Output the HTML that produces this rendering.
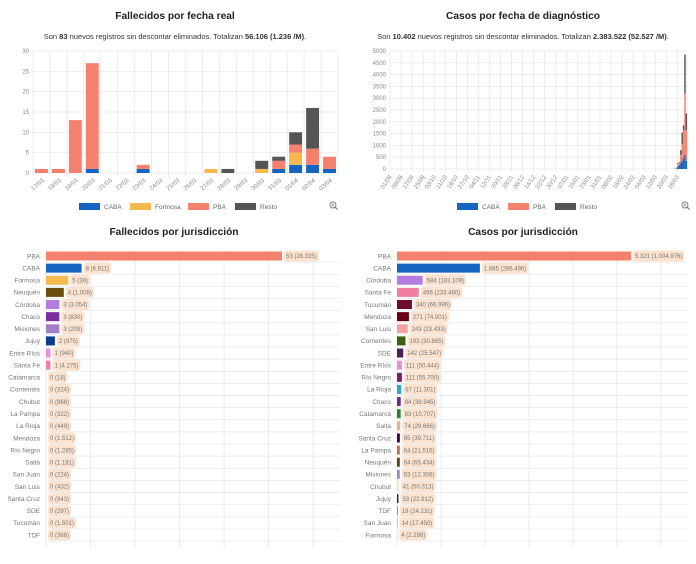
<!DOCTYPE html>
<html><head><meta charset="utf-8">
<style>
html,body{margin:0;padding:0;background:#fff;}
svg{display:block;font-family:"Liberation Sans",sans-serif;}
.t{font-weight:bold;font-size:10.2px;fill:#222;text-anchor:middle}
.s{font-size:7.5px;fill:#333;text-anchor:middle}
.tk{font-size:6px;fill:#888}
.g{stroke:#e6e6e6;stroke-width:0.7}
.lb{font-size:6.5px;fill:#777;text-anchor:end}
.vl{font-size:6px;fill:#777}
</style></head><body>
<svg id="svg" width="696" height="564" viewBox="0 0 696 564" xmlns="http://www.w3.org/2000/svg">
<text class="t" x="175" y="19">Fallecidos por fecha real</text>
<text class="s" x="175" y="39">Son <tspan font-weight="bold">83</tspan> nuevos registros sin descontar eliminados. Totalizan <tspan font-weight="bold">56.106 (1.236 /M)</tspan>.</text>
<text class="t" x="523" y="19">Casos por fecha de diagnóstico</text>
<text class="s" x="523" y="39">Son <tspan font-weight="bold">10.402</tspan> nuevos registros sin descontar eliminados. Totalizan <tspan font-weight="bold">2.383.522 (52.527 /M)</tspan>.</text>
<text class="t" x="174" y="235">Fallecidos por jurisdicción</text>
<text class="t" x="523" y="235">Casos por jurisdicción</text>
<g id="c1"></g><g id="c2"></g><g id="c3"></g><g id="c4"></g>
</svg>
<script>
// ---- chart 1 data
const dates1 = ["17/03","18/03","19/03","20/03","21/03","22/03","23/03","24/03","25/03","26/03","27/03","28/03","29/03","30/03","31/03","01/04","02/04","03/04"];
const caba1 =  [0,0,0,1,0,0,1,0,0,0,0,0,0,0,1,2,2,1];
const formosa1=[0,0,0,0,0,0,0,0,0,0,1,0,0,1,0,3,0,0];
const pba1 =   [1,1,13,26,0,0,1,0,0,0,0,0,0,0,2,2,4,3];
const resto1 = [0,0,0,0,0,0,0,0,0,0,0,1,0,2,1,3,10,0];
const yTicks1 = [0,5,10,15,20,25,30];
// ---- chart 2 data
const tickLabels2 = ["01/09","09/09","17/09","25/09","03/10","11/10","19/10","27/10","04/11","12/11","20/11","28/11","06/12","14/12","22/12","30/12","07/01","15/01","23/01","31/01","08/02","16/02","24/02","04/03","12/03","20/03","28/03"];
const totalDays2 = 215;
const tailStart2 = 205;
const caba2Tail =  [5,10,20,120,150,250,350,450,600,350];
const pba2Tail =   [5,10,30,100,120,350,700,1200,2600,1300];
const resto2Tail = [0,5,10,30,30,200,500,200,1650,700];
const yTicks2 = [0,500,1000,1500,2000,2500,3000,3500,4000,4500,5000];
// ---- chart 3 data
const names3 = ["PBA","CABA","Formosa","Neuquén","Córdoba","Chaco","Misiones","Jujuy","Entre Ríos","Santa Fe","Catamarca","Corrientes","Chubut","La Pampa","La Rioja","Mendoza","Río Negro","Salta","San Juan","San Luis","Santa Cruz","SDE","Tucumán","TDF"];
const values3 = [53,8,5,4,3,3,3,2,1,1,0,0,0,0,0,0,0,0,0,0,0,0,0,0];
const totals3 = ["28.335","6.911","39","1.008","3.054","830","209","975","940","4.275","18","324","868","322","449","1.512","1.285","1.181","224","432","843","297","1.501","366"];
const colors3 = ["#f4806e","#1565c0","#f6b94e","#6b4c0f","#b47be0","#7b2fa0","#a47fc6","#0d3b8c","#e88ee0","#f07fa0","#ccc","#ccc","#ccc","#ccc","#ccc","#ccc","#ccc","#ccc","#ccc","#ccc","#ccc","#ccc","#ccc","#ccc"];
// ---- chart 4 data
const names4 = ["PBA","CABA","Córdoba","Santa Fe","Tucumán","Mendoza","San Luis","Corrientes","SDE","Entre Ríos","Río Negro","La Rioja","Chaco","Catamarca","Salta","Santa Cruz","La Pampa","Neuquén","Misiones","Chubut","Jujuy","TDF","San Juan","Formosa"];
const values4 = [5321,1885,584,496,340,271,243,193,142,111,111,97,84,83,74,65,64,64,63,41,33,19,14,4];
const totals4 = ["1.004.976","266.496","183.109","233.480","66.996","74.001","23.433","30.865","25.547","50.444","55.700","11.301","38.945","10.707","29.666","39.711","21.516","65.434","12.306","50.313","22.912","24.231","17.450","2.298"];
const colors4 = ["#f4806e","#1565c0","#b47be0","#f07fa0","#6d0b32","#6a0010","#f3a0a0","#3c6010","#4a1f5a","#e88ee0","#7a1a70","#28a8d8","#6a2a8a","#2f7d32","#e8b090","#3a0a40","#c86a50","#5a4510","#a080d0","#d8f0c0","#1a2a4a","#a070a0","#b0a0c0","#f6b94e"];

const NS="http://www.w3.org/2000/svg";
function mk(tag,attrs,parent,txt){const e=document.createElementNS(NS,tag);for(const k in attrs)e.setAttribute(k,attrs[k]);if(txt!==undefined)e.textContent=txt;parent.appendChild(e);return e;}
const COL={caba:"#1565c0",formosa:"#f6b94e",pba:"#f4806e",resto:"#555555"};

function legend(g,items,x0,y){
  let x=x0;
  items.forEach(it=>{
    const r=mk("rect",{x:x,y:y-4,width:21,height:7,fill:COL[it.k]},g);
    
    
    const t=mk("text",{x:x+25,y:y+2,"font-size":"6.5px",fill:"#666"},g,it.n);
    
    
    x+=25+it.w;
  });
}
function zoomIcon(g,x,y){
  const z=mk("g",{},g);
  
  
  mk("circle",{cx:x,cy:y,r:3,fill:"none",stroke:"#777","stroke-width":0.9},z);
  mk("line",{x1:x+2.2,y1:y+2.2,x2:x+4.5,y2:y+4.5,stroke:"#777","stroke-width":1.1},z);
  mk("line",{x1:x-1.5,y1:y,x2:x+1.5,y2:y,stroke:"#777","stroke-width":0.7},z);
  mk("line",{x1:x,y1:y-1.5,x2:x,y2:y+1.5,stroke:"#777","stroke-width":0.7},z);
}

// chart 1
(function(){
  const g=document.getElementById("c1");
  const L=33,R=338,T=51,B=173,max=30;
  const y=v=>B-(v/max)*(B-T);
  const bw=(R-L)/dates1.length;
  const x=i=>L+i*bw;
  yTicks1.forEach(v=>{mk("line",{x1:L,x2:R,y1:y(v),y2:y(v),class:"g"},g);
    const t=mk("text",{x:L-4,y:y(v)+2,class:"tk","text-anchor":"end"},g,v);
    });
  for(let i=0;i<=dates1.length;i++)mk("line",{x1:x(i),x2:x(i),y1:T,y2:B+3,class:"g"},g);
  const series=[["caba",caba1],["formosa",formosa1],["pba",pba1],["resto",resto1]];
  dates1.forEach((d,i)=>{
    let acc=0;
    series.forEach(([k,arr])=>{const v=arr[i];if(!v)return;
      const r=mk("rect",{x:x(i)+2,y:y(acc+v),width:bw-4,height:y(acc)-y(acc+v),fill:COL[k]},g);
      acc+=v;});
    const cx=x(i)+bw/2;
    const t=mk("text",{x:cx+3,y:B+8,class:"tk","text-anchor":"end",transform:`rotate(-40 ${cx+3} ${B+8})`},g,d);
    
  });
  legend(g,[{k:"caba",n:"CABA",w:26},{k:"formosa",n:"Formosa",w:33},{k:"pba",n:"PBA",w:22},{k:"resto",n:"Resto",w:24}],79,207);
  zoomIcon(g,333,205);
})();

// chart 2
(function(){
  const g=document.getElementById("c2");
  const L=390,R=687,T=51,B=169,max=5000;
  const y=v=>B-(v/max)*(B-T);
  const dw=(R-L)/totalDays2;
  const x=i=>L+i*dw;
  yTicks2.forEach(v=>{mk("line",{x1:L,x2:R,y1:y(v),y2:y(v),class:"g"},g);
    const t=mk("text",{x:L-4,y:y(v)+2,class:"tk","text-anchor":"end"},g,v);
    });
  tickLabels2.forEach((d,j)=>{const xx=x(j*8);
    mk("line",{x1:xx,x2:xx,y1:T,y2:B+3,class:"g"},g);
    const t=mk("text",{x:xx+2,y:B+8,class:"tk","text-anchor":"end",transform:`rotate(-55 ${xx+2} ${B+8})`},g,d);
    });
  mk("line",{x1:R,x2:R,y1:T,y2:B,class:"g"},g);
  const series=[["caba",caba2Tail],["pba",pba2Tail],["resto",resto2Tail]];
  caba2Tail.forEach((_,j)=>{
    let acc=0;const i=tailStart2+j;
    series.forEach(([k,arr])=>{const v=arr[j];if(!v)return;
      const r=mk("rect",{x:x(i),y:y(acc+v),width:dw*1.05,height:y(acc)-y(acc+v),fill:COL[k]},g);
      acc+=v;});
  });
  legend(g,[{k:"caba",n:"CABA",w:26},{k:"pba",n:"PBA",w:22},{k:"resto",n:"Resto",w:24}],457,207);
  zoomIcon(g,685,205);
})();

// horizontal bars
function hbar(gid,names,vals,tots,cols,L,R,pxPerUnit,gridStep,prefix){
  const g=document.getElementById(gid);
  const T=250,step=12.13,B=548;
  const x=v=>L+v*pxPerUnit;
  for(let v=0;x(v)<=R+1;v+=gridStep)mk("line",{x1:x(v),x2:x(v),y1:T,y2:B,class:"g"},g);
  names.forEach((n,i)=>{
    const cy=256+i*step;
    mk("line",{x1:L,x2:R,y1:cy+step/2,y2:cy+step/2,class:"g"},g);
    const lt=mk("text",{x:L-6,y:cy+2.3,class:"lb"},g,n);
    
    const w=x(vals[i])-L;
    if(w>0){const r=mk("rect",{x:L,y:cy-4.5,width:w,height:9,fill:cols[i]},g);
      }
    const lx=L+w+2;
    const bg=mk("rect",{x:lx,y:cy-5.5,width:10,height:11,rx:3,fill:"#fbe3cf"},g);
    
    const t=mk("text",{x:lx+2,y:cy+2.2,class:"vl"},g,vals[i].toLocaleString("de-DE")+" ("+tots[i]+")");
    
    bg.setAttribute("width",t.getComputedTextLength()+4);
  });
}
hbar("c3",names3,values3,totals3,colors3,46,340,(282-46)/53,10,"deaths");
hbar("c4",names4,values4,totals4,colors4,397,688,(631-397)/5321,1000,"cases");
</script>
</body></html>
